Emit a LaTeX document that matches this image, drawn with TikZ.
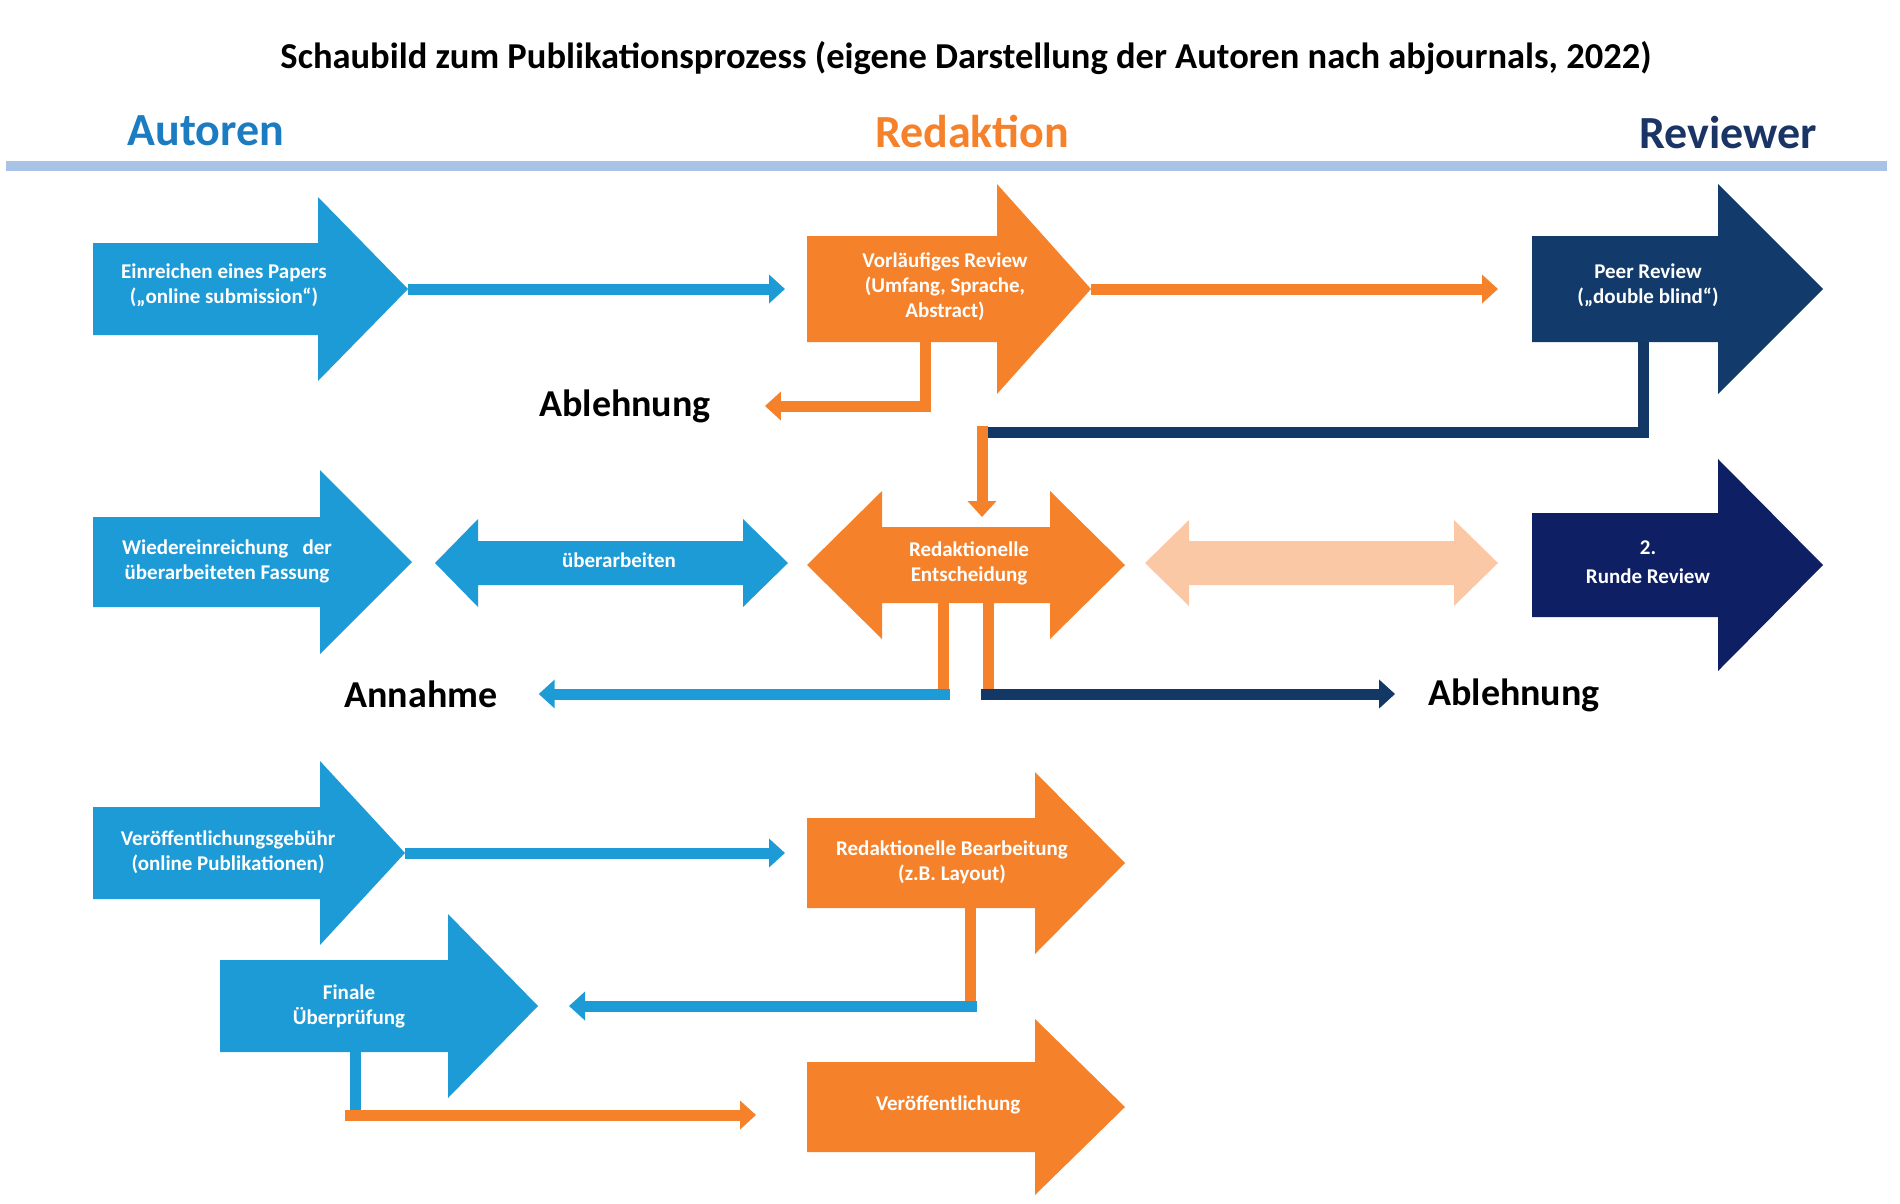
\documentclass[tikz,border=0pt]{standalone}
\usepackage{fontspec}
\setmainfont{Carlito}
\usetikzlibrary{
    positioning,  % relative placement
    arrows.meta,  % arrow tips (Triangle)
    calc          % coordinate arithmetic
}

\definecolor{autorblau}{HTML}{1D9BD7}
\definecolor{redaktionorange}{HTML}{F5822A}
\definecolor{peerblau}{HTML}{123B6B}
\definecolor{rundenblau}{HTML}{0E1F63}
\definecolor{linienblau}{HTML}{143866}
\definecolor{pfirsich}{HTML}{FBC8A6}
\definecolor{kopflinie}{HTML}{A8C3E5}
\definecolor{autorkopf}{HTML}{1B7CC1}
\definecolor{reviewerkopf}{HTML}{1A3465}

% block arrow to the right: name, colour, tail x, head base x, tip x, centre y, half shaft, half head
\newcommand{\rechtspfeil}[8]{%
    \fill[#2] (#3,#6-#7) -- (#4,#6-#7) -- (#4,#6-#8) -- (#5,#6)
        -- (#4,#6+#8) -- (#4,#6+#7) -- (#3,#6+#7) -- cycle;
    \coordinate (#1-tail) at (#3,#6);
    \coordinate (#1-tip) at (#5,#6);}
% double block arrow: name, colour, left tip x, left base x, right base x, right tip x, centre y, half shaft, half head
\newcommand{\doppelpfeil}[9]{%
    \fill[#2] (#3,#7) -- (#4,#7-#9) -- (#4,#7-#8) -- (#5,#7-#8) -- (#5,#7-#9) -- (#6,#7)
        -- (#5,#7+#9) -- (#5,#7+#8) -- (#4,#7+#8) -- (#4,#7+#9) -- cycle;
    \coordinate (#1-top) at ({(#4+#5)/2},#7-#8);}

\begin{document}
\begin{tikzpicture}[
    x=1pt, y=-1pt,
    % Text inside the block arrows
    boxtext/.style={
        text=white,
        font=\fontsize{21}{25}\selectfont\bfseries,
        align=center,
        inner sep=0pt
    },
    % Column headers
    kopf/.style={
        font=\fontsize{46}{52}\selectfont\bfseries,
        inner sep=0pt
    },
    % Free standing decision labels
    ergebnis/.style={
        font=\fontsize{38}{44}\selectfont\bfseries,
        inner sep=0pt
    },
    % Thick connector lines
    verbinder/.style={
        line width=11pt
    },
    spitze/.style={
        -{Triangle[length=16pt, width=28pt]}
    }
]
    \useasboundingbox (0,0) rectangle (1900,1203);

    % 1. Title, column headers and rule.
    \node[font=\fontsize{36.5}{40}\selectfont\bfseries] (titel) at (966,58)
        {Schaubild zum Publikationsprozess (eigene Darstellung der Autoren nach abjournals, 2022)};
    \node[kopf, text=autorkopf] (autoren) at (206,131) {Autoren};
    \node[kopf, text=redaktionorange] (redaktion) at (972,131) {Redaktion};
    \node[kopf, text=reviewerkopf] (reviewer) at (1728,133) {Reviewer};
    \draw[line width=10pt, kopflinie] (6,166) -- (1887,166);

    % 2. Block arrows.
    \rechtspfeil{einreichen}{autorblau}{93}{318}{408}{289}{46}{92}
    \rechtspfeil{vorlaeufig}{redaktionorange}{807}{997}{1091}{289}{53}{105}
    \rechtspfeil{peer}{peerblau}{1532}{1718}{1823}{289}{53}{105}
    \rechtspfeil{wieder}{autorblau}{93}{320}{412}{562}{45}{92}
    \doppelpfeil{ueberarbeiten}{autorblau}{435}{478}{743}{788}{563}{22}{44}
    \doppelpfeil{entscheidung}{redaktionorange}{807}{882}{1050}{1125}{565}{38}{74}
    \doppelpfeil{runde-hin}{pfirsich}{1145}{1189}{1454}{1498}{563}{22}{43}
    \rechtspfeil{runde}{rundenblau}{1532}{1718}{1823}{565}{52}{106}
    \rechtspfeil{gebuehr}{autorblau}{93}{320}{405}{853}{46}{92}
    \rechtspfeil{finale}{autorblau}{220}{448}{538}{1006}{46}{92}
    \rechtspfeil{bearbeitung}{redaktionorange}{807}{1035}{1125}{863}{45}{91}
    \rechtspfeil{veroeffentlichung}{redaktionorange}{807}{1035}{1125}{1107}{45}{88}

    % 3. Texts on the arrows.
    \node[boxtext] (einreichen-text) at (224,285) {Einreichen eines Papers\\(„online submission“)};
    \node[boxtext] (vorlaeufig-text) at (945,287) {Vorläufiges Review\\(Umfang, Sprache,\\Abstract)};
    \node[boxtext] (peer-text) at (1648,285) {Peer Review\\(„double blind“)};
    \node[boxtext] (wieder-text) at (227,561) {Wiedereinreichung~~~der\\überarbeiteten Fassung};
    \node[boxtext] (ueberarbeiten-text) at (619,560) {überarbeiten};
    \node[boxtext] (entscheidung-text) at (969,563) {Redaktionelle\\Entscheidung};
    \node[boxtext, font=\fontsize{21}{29}\selectfont\bfseries] (runde-text) at (1648,562) {2.\\Runde Review};
    \node[boxtext] (gebuehr-text) at (228,852) {Veröffentlichungsgebühr\\(online Publikationen)};
    \node[boxtext] (finale-text) at (349,1006) {Finale\\Überprüfung};
    \node[boxtext] (bearbeitung-text) at (952,862) {Redaktionelle Bearbeitung\\(z.B. Layout)};
    \node[boxtext] (veroeffentlichung-text) at (948,1105) {Veröffentlichung};

    % 4. Outcome labels and branch points.
    \node[ergebnis] (ablehnung-oben) at (625,406) {Ablehnung};
    \node[ergebnis] (annahme) at (421,694) {Annahme};
    \node[ergebnis] (ablehnung-unten) at (1514,695) {Ablehnung};
    \coordinate (vorlaeufig-ab) at (925,342);
    \coordinate (peer-ab) at (1643,342);
    \coordinate (knick) at (982,432);
    \coordinate (annahme-ab) at (943,603);
    \coordinate (ablehnung-ab) at (988,603);
    \coordinate (bearbeitung-ab) at (970,908);
    \coordinate (finale-ab) at (355,1052);

    % 5. Connectors.
    % --- first row
    \draw[verbinder, autorblau, spitze, shorten >=22pt] (einreichen-tip) -- (einreichen-tip -| vorlaeufig-tail);
    \draw[verbinder, redaktionorange, spitze, shorten >=34pt] (vorlaeufig-tip) -- (vorlaeufig-tip -| peer-tail);
    \draw[verbinder, redaktionorange, spitze, shorten >=54pt] (vorlaeufig-ab) |- (ablehnung-oben.east);
    \draw[verbinder, linienblau] (peer-ab) |- (knick);
    \draw[verbinder, redaktionorange, spitze, shorten >=10pt] ([yshift=6pt]knick) -- (knick |- entscheidung-top);

    % --- decision
    \draw[verbinder, redaktionorange] (annahme-ab) -- (annahme-ab |- annahme);
    \draw[verbinder, autorblau, spitze, shorten >=41pt] ([xshift=7pt]annahme-ab |- annahme) -- (annahme.east);
    \draw[verbinder, redaktionorange] (ablehnung-ab) -- (ablehnung-ab |- annahme);
    \draw[verbinder, linienblau, spitze, shorten >=33pt] ([xshift=-7pt]ablehnung-ab |- annahme) -- (annahme -| ablehnung-unten.west);

    % --- publication
    \draw[verbinder, autorblau, spitze, shorten >=22pt] (gebuehr-tip) -- (gebuehr-tip -| bearbeitung-tail);
    \draw[verbinder, redaktionorange] (bearbeitung-ab) -- (bearbeitung-ab |- finale-tip);
    \draw[verbinder, autorblau, spitze, shorten >=31pt] ([xshift=7pt]bearbeitung-ab |- finale-tip) -- (finale-tip);
    \draw[verbinder, autorblau] (finale-ab) -- ++(0,63) coordinate (finale-knick);
    \draw[verbinder, redaktionorange, spitze, shorten >=51pt] ([xshift=-10pt]finale-knick) -- (finale-knick -| veroeffentlichung-tail);

\end{tikzpicture}
\end{document}
